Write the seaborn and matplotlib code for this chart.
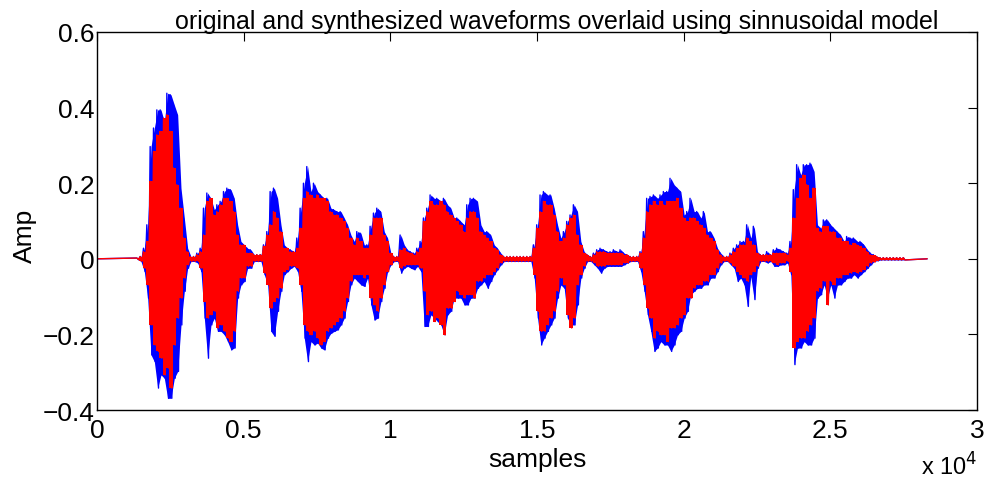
import numpy as np
import pandas as pd
import matplotlib
matplotlib.use("Agg")
import matplotlib.pyplot as plt
from matplotlib.ticker import FixedLocator
import seaborn as sns

# ---- data (envelope per analysis window) ----
first_window_center = 1386      # samples
window_len = 113.6              # samples per window
signal_start = 0
signal_end = 28300

orig_top = [
    0.002, 0.006, 0.028, 0.090, 0.297, 0.346, 0.394, 0.394, 0.363, 0.438, 0.434, 0.407, 0.381, 0.187, 0.108, 0.028, 0.006, 0.006, 0.015, 0.028, 0.134, 0.174, 0.160, 0.130, 0.143, 0.152, 0.178, 0.187, 0.183, 0.160, 0.090, 0.046, 0.037,
    0.028, 0.024, 0.011, 0.011, 0.011, 0.037, 0.072, 0.178, 0.187, 0.160, 0.090, 0.037, 0.028, 0.024, 0.019, 0.055, 0.134, 0.200, 0.244, 0.178, 0.200, 0.178, 0.169, 0.160, 0.160, 0.134, 0.130, 0.125, 0.125, 0.108, 0.090, 0.063, 0.046,
    0.072, 0.068, 0.037, 0.037, 0.086, 0.121, 0.134, 0.125, 0.072, 0.055, 0.015, 0.006, 0.006, 0.063, 0.037, 0.024, 0.019, 0.015, 0.028, 0.046, 0.108, 0.134, 0.169, 0.160, 0.160, 0.152, 0.160, 0.143, 0.134, 0.108, 0.108, 0.099, 0.090,
    0.143, 0.160, 0.160, 0.152, 0.090, 0.072, 0.072, 0.063, 0.037, 0.028, 0.015, 0.006, 0.006, 0.006, 0.006, 0.006, 0.006, 0.006, 0.006, 0.006, 0.037, 0.090, 0.169, 0.178, 0.169, 0.169, 0.134, 0.090, 0.055, 0.072, 0.099, 0.116, 0.143,
    0.125, 0.046, 0.019, 0.011, 0.006, 0.015, 0.024, 0.028, 0.024, 0.019, 0.019, 0.024, 0.019, 0.024, 0.015, 0.011, 0.006, 0.006, 0.006, 0.019, 0.072, 0.160, 0.165, 0.169, 0.160, 0.169, 0.178, 0.178, 0.213, 0.196, 0.187, 0.178, 0.116,
    0.125, 0.160, 0.125, 0.125, 0.108, 0.125, 0.072, 0.072, 0.055, 0.028, 0.015, 0.006, 0.006, 0.015, 0.028, 0.037, 0.046, 0.046, 0.090, 0.055, 0.086, 0.019, 0.011, 0.011, 0.019, 0.011, 0.024, 0.028, 0.024, 0.019, 0.015, 0.046, 0.183,
    0.249, 0.222, 0.249, 0.249, 0.253, 0.231, 0.090, 0.081, 0.103, 0.103, 0.090, 0.081, 0.072, 0.063, 0.046, 0.059, 0.055, 0.055, 0.046, 0.046, 0.037, 0.024, 0.015, 0.011, 0.006, 0.003, 0.003, 0.003, 0.003, 0.003, 0.003, 0.003, 0.003,
]
orig_bottom = [
    -0.002, -0.007, -0.034, -0.104, -0.254, -0.272, -0.342, -0.307, -0.316, -0.369, -0.369, -0.316, -0.298, -0.175, -0.086, -0.025, -0.007, -0.007, -0.011, -0.034, -0.157, -0.263, -0.175, -0.157, -0.192, -0.192, -0.201, -0.219, -0.241, -0.236, -0.104, -0.069, -0.060,
    -0.025, -0.025, -0.007, -0.007, -0.007, -0.042, -0.069, -0.192, -0.205, -0.139, -0.086, -0.042, -0.034, -0.025, -0.020, -0.034, -0.086, -0.210, -0.272, -0.219, -0.228, -0.223, -0.236, -0.241, -0.210, -0.197, -0.192, -0.188, -0.175, -0.157, -0.113, -0.069, -0.051,
    -0.060, -0.069, -0.073, -0.051, -0.122, -0.162, -0.157, -0.113, -0.078, -0.034, -0.016, -0.007, -0.007, -0.038, -0.025, -0.020, -0.025, -0.029, -0.020, -0.034, -0.179, -0.179, -0.148, -0.157, -0.166, -0.175, -0.201, -0.148, -0.139, -0.104, -0.104, -0.104, -0.122,
    -0.122, -0.104, -0.104, -0.078, -0.069, -0.060, -0.078, -0.060, -0.042, -0.029, -0.016, -0.007, -0.007, -0.007, -0.007, -0.007, -0.007, -0.007, -0.007, -0.007, -0.051, -0.157, -0.228, -0.210, -0.192, -0.175, -0.157, -0.104, -0.069, -0.078, -0.157, -0.175, -0.175,
    -0.122, -0.051, -0.025, -0.007, -0.007, -0.016, -0.025, -0.038, -0.025, -0.020, -0.020, -0.020, -0.020, -0.020, -0.016, -0.011, -0.007, -0.007, -0.007, -0.034, -0.086, -0.148, -0.192, -0.245, -0.236, -0.219, -0.228, -0.228, -0.245, -0.228, -0.201, -0.192, -0.157,
    -0.139, -0.095, -0.086, -0.078, -0.078, -0.069, -0.069, -0.051, -0.051, -0.034, -0.016, -0.007, -0.007, -0.016, -0.025, -0.060, -0.051, -0.069, -0.126, -0.047, -0.108, -0.025, -0.007, -0.007, -0.011, -0.007, -0.020, -0.020, -0.016, -0.016, -0.011, -0.042, -0.280,
    -0.236, -0.236, -0.219, -0.228, -0.228, -0.210, -0.104, -0.095, -0.069, -0.104, -0.069, -0.104, -0.069, -0.069, -0.060, -0.051, -0.051, -0.042, -0.051, -0.042, -0.034, -0.025, -0.016, -0.007, -0.005, -0.003, -0.003, -0.003, -0.003, -0.003, -0.003, -0.003, -0.003,
]
synth_top = [
    0.002, 0.006, 0.019, 0.046, 0.205, 0.284, 0.328, 0.337, 0.372, 0.381, 0.337, 0.240, 0.196, 0.134, 0.055, 0.019, 0.006, 0.006, 0.011, 0.019, 0.063, 0.152, 0.160, 0.116, 0.125, 0.143, 0.160, 0.160, 0.152, 0.125, 0.063, 0.037, 0.037,
    0.015, 0.015, 0.011, 0.011, 0.011, 0.033, 0.063, 0.090, 0.125, 0.108, 0.072, 0.028, 0.028, 0.019, 0.019, 0.028, 0.081, 0.160, 0.178, 0.169, 0.160, 0.169, 0.160, 0.160, 0.152, 0.125, 0.116, 0.116, 0.108, 0.099, 0.081, 0.055, 0.037,
    0.055, 0.046, 0.028, 0.028, 0.063, 0.108, 0.108, 0.108, 0.063, 0.046, 0.015, 0.006, 0.006, 0.024, 0.028, 0.019, 0.015, 0.011, 0.019, 0.028, 0.099, 0.125, 0.152, 0.143, 0.143, 0.152, 0.143, 0.125, 0.116, 0.108, 0.099, 0.090, 0.072,
    0.108, 0.125, 0.125, 0.108, 0.072, 0.063, 0.055, 0.046, 0.028, 0.024, 0.011, 0.006, 0.006, 0.006, 0.006, 0.006, 0.006, 0.006, 0.006, 0.006, 0.028, 0.081, 0.125, 0.152, 0.143, 0.143, 0.116, 0.072, 0.046, 0.055, 0.090, 0.108, 0.116,
    0.063, 0.037, 0.015, 0.011, 0.006, 0.011, 0.019, 0.019, 0.019, 0.015, 0.015, 0.015, 0.015, 0.015, 0.011, 0.011, 0.006, 0.006, 0.006, 0.015, 0.055, 0.125, 0.143, 0.152, 0.143, 0.152, 0.143, 0.152, 0.152, 0.152, 0.160, 0.134, 0.108,
    0.099, 0.108, 0.108, 0.099, 0.090, 0.081, 0.063, 0.055, 0.046, 0.024, 0.011, 0.006, 0.006, 0.011, 0.019, 0.028, 0.037, 0.037, 0.055, 0.046, 0.037, 0.015, 0.011, 0.011, 0.011, 0.011, 0.015, 0.015, 0.015, 0.015, 0.011, 0.028, 0.108,
    0.160, 0.213, 0.222, 0.196, 0.160, 0.187, 0.081, 0.072, 0.086, 0.086, 0.072, 0.072, 0.055, 0.055, 0.046, 0.046, 0.037, 0.041, 0.037, 0.033, 0.028, 0.019, 0.011, 0.009, 0.006, 0.003, 0.003, 0.003, 0.003, 0.003, 0.003, 0.003, 0.003,
]
synth_bottom = [
    -0.002, -0.007, -0.025, -0.069, -0.175, -0.228, -0.245, -0.263, -0.307, -0.289, -0.342, -0.228, -0.157, -0.104, -0.051, -0.016, -0.007, -0.007, -0.007, -0.025, -0.113, -0.157, -0.148, -0.139, -0.183, -0.175, -0.192, -0.210, -0.219, -0.192, -0.086, -0.051, -0.051,
    -0.020, -0.020, -0.007, -0.007, -0.007, -0.038, -0.069, -0.131, -0.113, -0.104, -0.078, -0.034, -0.029, -0.020, -0.020, -0.025, -0.069, -0.175, -0.192, -0.201, -0.192, -0.210, -0.228, -0.219, -0.192, -0.183, -0.175, -0.166, -0.157, -0.139, -0.104, -0.060, -0.042,
    -0.042, -0.042, -0.051, -0.042, -0.104, -0.122, -0.139, -0.104, -0.069, -0.034, -0.016, -0.007, -0.007, -0.025, -0.020, -0.016, -0.016, -0.016, -0.016, -0.025, -0.086, -0.148, -0.139, -0.166, -0.157, -0.175, -0.201, -0.131, -0.131, -0.113, -0.086, -0.095, -0.104,
    -0.095, -0.095, -0.104, -0.060, -0.060, -0.051, -0.042, -0.042, -0.034, -0.025, -0.011, -0.007, -0.007, -0.007, -0.007, -0.007, -0.007, -0.007, -0.007, -0.007, -0.042, -0.139, -0.192, -0.192, -0.175, -0.157, -0.139, -0.086, -0.051, -0.069, -0.148, -0.183, -0.157,
    -0.069, -0.042, -0.020, -0.007, -0.007, -0.011, -0.020, -0.020, -0.020, -0.016, -0.016, -0.016, -0.016, -0.016, -0.011, -0.011, -0.007, -0.007, -0.007, -0.025, -0.069, -0.131, -0.157, -0.210, -0.192, -0.201, -0.201, -0.219, -0.183, -0.183, -0.175, -0.157, -0.148,
    -0.104, -0.104, -0.078, -0.069, -0.069, -0.060, -0.060, -0.042, -0.042, -0.025, -0.011, -0.007, -0.007, -0.011, -0.020, -0.034, -0.042, -0.051, -0.060, -0.042, -0.034, -0.020, -0.007, -0.007, -0.007, -0.007, -0.011, -0.016, -0.011, -0.011, -0.007, -0.034, -0.236,
    -0.219, -0.210, -0.210, -0.192, -0.175, -0.157, -0.086, -0.078, -0.060, -0.122, -0.060, -0.069, -0.051, -0.051, -0.042, -0.042, -0.038, -0.034, -0.038, -0.034, -0.029, -0.020, -0.011, -0.009, -0.005, -0.003, -0.003, -0.003, -0.003, -0.003, -0.003, -0.003, -0.003,
]

x_ticks = [0, 5000, 10000, 15000, 20000, 25000, 30000]
x_tick_labels = ["0", "0.5", "1", "1.5", "2", "2.5", "3"]
y_ticks = [-0.4, -0.2, 0.0, 0.2, 0.4, 0.6]
y_tick_labels = ["\u22120.4", "\u22120.2", "0", "0.2", "0.4", "0.6"]

title_text = "original and synthesized waveforms overlaid using sinnusoidal model"
x_label = "samples"
y_label = "Amp"

series_colors = {"original": "#0000ff", "synthesized": "#ff0000"}
series_fill_step = {"original": None, "synthesized": "mid"}


def window_centers(n):
    return first_window_center + window_len * np.arange(n)


def waveform_frame(top, bottom, name):
    xs = [signal_start]
    ys = [0.0]
    for c, t, b in zip(window_centers(len(top)), top, bottom):
        xs += [c - 0.25 * window_len, c + 0.25 * window_len]
        ys += [t, b]
    xs.append(signal_end)
    ys.append(0.0)
    return pd.DataFrame({"sample": xs, "amp": ys, "series": name})


sns.set_style("white")
plt.rcParams["font.family"] = ["Liberation Sans", "DejaVu Sans"]
plt.rcParams["path.simplify"] = False
plt.rcParams["text.color"] = "black"
plt.rcParams["axes.labelcolor"] = "black"

fig = plt.figure(figsize=(9.87, 4.81), dpi=100)
ax = fig.add_axes([0.0983, 0.1455, 0.8916, 0.7859])

layer = 1
for name, top, bottom in [("original", orig_top, orig_bottom),
                          ("synthesized", synth_top, synth_bottom)]:
    color = series_colors[name]
    ax.fill_between(window_centers(len(top)), bottom, top,
                    step=series_fill_step[name],
                    color=color, linewidth=0, zorder=layer)
    sns.lineplot(data=waveform_frame(top, bottom, name), x="sample", y="amp",
                 color=color, sort=False, estimator=None, linewidth=1.0,
                 legend=False, ax=ax, zorder=layer + 1)
    layer += 2

ax.set_xlim(0, 30000)
ax.set_ylim(-0.4, 0.6)
ax.xaxis.set_major_locator(FixedLocator(x_ticks))
ax.set_xticklabels(x_tick_labels)
ax.yaxis.set_major_locator(FixedLocator(y_ticks))
ax.set_yticklabels(y_tick_labels)

ax.tick_params(direction="in", length=6.5, width=0.8, top=True, right=True,
               labelsize=19, colors="black", pad=6)
ax.tick_params(axis="y", pad=2)
for sp in ax.spines.values():
    sp.set_visible(True)
    sp.set_color("black")
    sp.set_linewidth(1.0)
    sp.set_zorder(10)

ax.set_title(title_text, fontsize=18, pad=3, x=0.522, color="black")
ax.set_xlabel(x_label, fontsize=19, labelpad=3)
ax.set_ylabel(y_label, fontsize=19)
ax.yaxis.set_label_coords(-0.068, 0.463)
ax.text(1.0, -0.112, "x 10$^4$", transform=ax.transAxes, ha="right", va="top",
        fontsize=17, color="black")

fig.savefig("out.png", dpi=100, facecolor="white")
